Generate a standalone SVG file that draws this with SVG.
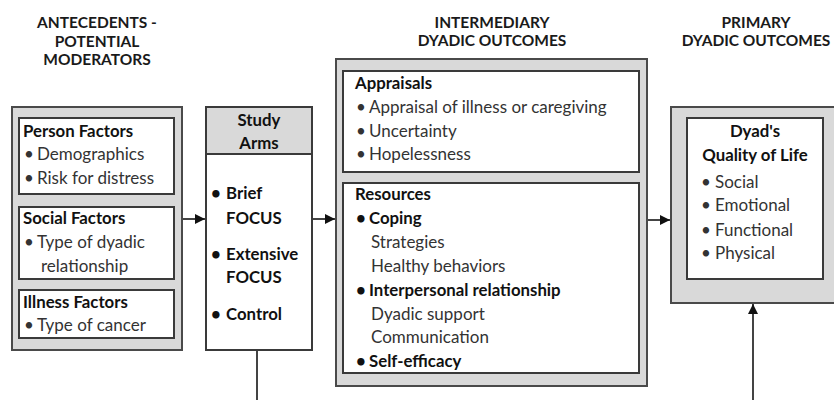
<svg xmlns="http://www.w3.org/2000/svg" width="834" height="400" viewBox="0 0 834 400">
<defs>
<marker id="arr" viewBox="0 0 10 10" refX="10" refY="5" markerWidth="5" markerHeight="5" orient="auto" markerUnits="strokeWidth">
<path d="M0,0 L10,5 L0,10 z" fill="#111"/>
</marker>
<style>
.outer{fill:#d9d9d9;stroke:#4a4a4a;stroke-width:2}
.inner{fill:#fff;stroke:#3a3a3a;stroke-width:2}
.hdr{font-family:Lato,"Liberation Sans",sans-serif;font-weight:bold;font-size:15.5px;fill:#1a1a1a;text-anchor:middle}
.h{font-family:Lato,"Liberation Sans",sans-serif;font-weight:bold;font-size:16.8px;fill:#111}
.t{font-family:Lato,"Liberation Sans",sans-serif;font-size:17px;fill:#333}
.b{font-family:Lato,"Liberation Sans",sans-serif;font-weight:bold;font-size:16.8px;fill:#111}
.c{text-anchor:middle}
.ln{stroke:#444;stroke-width:2;fill:none}
</style>
</defs>
<rect width="834" height="400" fill="#fff"/>
<g id="column-labels">
<text class="hdr" x="97" y="28">ANTECEDENTS -</text>
<text class="hdr" x="97" y="47">POTENTIAL</text>
<text class="hdr" x="97" y="65">MODERATORS</text>
<text class="hdr" x="492" y="28">INTERMEDIARY</text>
<text class="hdr" x="492" y="46">DYADIC OUTCOMES</text>
<text class="hdr" x="756" y="28">PRIMARY</text>
<text class="hdr" x="756" y="46">DYADIC OUTCOMES</text>
</g>
<g id="antecedents">
<rect class="outer" x="12" y="107" width="170" height="243"/>
<g id="person-factors">
<rect class="inner" x="19" y="118" width="155" height="76"/>
<text class="h" x="23" y="137">Person Factors</text>
<text class="t"><tspan x="24" y="160">•</tspan><tspan x="37" y="160">Demographics</tspan></text>
<text class="t"><tspan x="24" y="184">•</tspan><tspan x="37" y="184">Risk for distress</tspan></text>
</g>
<g id="social-factors">
<rect class="inner" x="19" y="207" width="155" height="72"/>
<text class="h" x="23" y="224">Social Factors</text>
<text class="t"><tspan x="24" y="248">•</tspan><tspan x="37" y="248">Type of dyadic</tspan></text>
<text class="t" x="41" y="272">relationship</text>
</g>
<g id="illness-factors">
<rect class="inner" x="19" y="290" width="155" height="48"/>
<text class="h" x="23" y="308">Illness Factors</text>
<text class="t"><tspan x="24" y="331">•</tspan><tspan x="37" y="331">Type of cancer</tspan></text>
</g>
</g>
<g id="study-arms">
<rect x="206" y="107" width="106" height="243" fill="#fff" stroke="#3a3a3a" stroke-width="2"/>
<rect x="207" y="108" width="104" height="46" fill="#d9d9d9"/>
<line x1="206" y1="154" x2="312" y2="154" stroke="#3a3a3a" stroke-width="2"/>
<text class="b c" x="259" y="126">Study</text>
<text class="b c" x="259" y="149">Arms</text>
<text class="b"><tspan x="211" y="199">•</tspan><tspan x="226" y="199">Brief</tspan></text>
<text class="b" x="226" y="224">FOCUS</text>
<text class="b"><tspan x="211" y="260">•</tspan><tspan x="226" y="260">Extensive</tspan></text>
<text class="b" x="226" y="283">FOCUS</text>
<text class="b"><tspan x="211" y="320">•</tspan><tspan x="226" y="320">Control</tspan></text>
</g>
<g id="intermediary-outcomes">
<rect class="outer" x="336" y="59" width="311" height="327"/>
<g id="appraisals">
<rect class="inner" x="343" y="71" width="296" height="101"/>
<text class="h" x="355" y="89">Appraisals</text>
<text class="t"><tspan x="356" y="113">•</tspan><tspan x="369" y="113">Appraisal of illness or caregiving</tspan></text>
<text class="t"><tspan x="356" y="137">•</tspan><tspan x="369" y="137">Uncertainty</tspan></text>
<text class="t"><tspan x="356" y="160">•</tspan><tspan x="369" y="160">Hopelessness</tspan></text>
</g>
<g id="resources">
<rect class="inner" x="343" y="183" width="296" height="190"/>
<text class="h" x="355" y="200">Resources</text>
<text class="b"><tspan x="356" y="224">•</tspan><tspan x="369" y="224">Coping</tspan></text>
<text class="t" x="371" y="248">Strategies</text>
<text class="t" x="371" y="272">Healthy behaviors</text>
<text class="b"><tspan x="356" y="296">•</tspan><tspan x="369" y="296">Interpersonal relationship</tspan></text>
<text class="t" x="371" y="320">Dyadic support</text>
<text class="t" x="371" y="343">Communication</text>
<text class="b"><tspan x="356" y="367">•</tspan><tspan x="369" y="367">Self-efficacy</tspan></text>
</g>
</g>
<g id="primary-outcomes">
<rect class="outer" x="671" y="107" width="170" height="196"/>
<g id="quality-of-life">
<rect class="inner" x="687" y="118" width="136" height="161"/>
<text class="b c" x="755" y="137">Dyad's</text>
<text class="b c" x="755" y="161">Quality of Life</text>
<text class="t"><tspan x="701" y="188">•</tspan><tspan x="715" y="188">Social</tspan></text>
<text class="t"><tspan x="701" y="211">•</tspan><tspan x="715" y="211">Emotional</tspan></text>
<text class="t"><tspan x="701" y="236">•</tspan><tspan x="715" y="236">Functional</tspan></text>
<text class="t"><tspan x="701" y="259">•</tspan><tspan x="715" y="259">Physical</tspan></text>
</g>
</g>
<g id="connectors">
<line class="ln" x1="183" y1="219" x2="205" y2="219" marker-end="url(#arr)"/>
<line class="ln" x1="313" y1="219" x2="335" y2="219" marker-end="url(#arr)"/>
<line class="ln" x1="648" y1="220" x2="670" y2="220" marker-end="url(#arr)"/>
<line class="ln" x1="257" y1="351" x2="257" y2="400"/>
<line class="ln" x1="753" y1="400" x2="753" y2="304" marker-end="url(#arr)"/>
</g>
</svg>
